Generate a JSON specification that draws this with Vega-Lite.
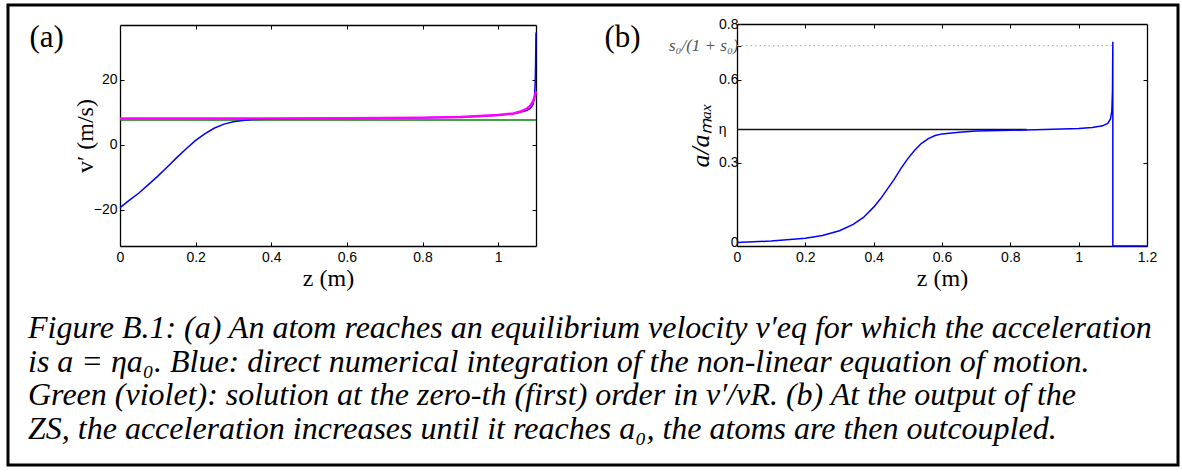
{
  "$schema": "https://vega.github.io/schema/vega-lite/v6.json",
  "width": 1170,
  "height": 460,
  "autosize": {"type": "none"},
  "padding": {"left": 8, "top": 5, "right": 4, "bottom": 8},
  "background": "white",
  "config": {
    "view": {"stroke": "black", "strokeWidth": 3},
    "axis": {
      "grid": false,
      "domainColor": "black",
      "domainWidth": 1.3,
      "tickColor": "black",
      "tickWidth": 1,
      "tickSize": -4,
      "labelFont": "Liberation Sans",
      "labelFontSize": 14,
      "labelColor": "black",
      "labelFlush": false,
      "labelOverlap": false,
      "titleFont": "Liberation Serif",
      "titleFontSize": 24,
      "titleFontWeight": "normal",
      "titleColor": "black"
    }
  },
  "title": {
    "text": [
      "Figure B.1: (a) An atom reaches an equilibrium velocity v′eq for which the acceleration",
      "is a = ηa₀. Blue: direct numerical integration of the non-linear equation of motion.",
      "Green (violet): solution at the zero-th (first) order in v′/vR. (b) At the output of the",
      "ZS, the acceleration increases until it reaches a₀, the atoms are then outcoupled."
    ],
    "orient": "bottom",
    "anchor": "start",
    "frame": "group",
    "offset": -127,
    "dx": 20,
    "font": "Liberation Serif",
    "fontSize": 32,
    "fontStyle": "italic",
    "fontWeight": "normal",
    "color": "black",
    "lineHeight": 33.7,
    "baseline": "alphabetic"
  },
  "datasets": {
    "a": [
      {"s": "green", "i": 0, "z": 0, "v": 7.7},
      {"s": "green", "i": 1, "z": 1.1, "v": 7.7},
      {"s": "blue", "i": 0, "z": 0, "v": -19.3},
      {"s": "blue", "i": 1, "z": 0.025, "v": -17.0},
      {"s": "blue", "i": 2, "z": 0.05, "v": -14.8},
      {"s": "blue", "i": 3, "z": 0.075, "v": -12.2},
      {"s": "blue", "i": 4, "z": 0.1, "v": -9.6},
      {"s": "blue", "i": 5, "z": 0.125, "v": -6.8},
      {"s": "blue", "i": 6, "z": 0.15, "v": -3.9},
      {"s": "blue", "i": 7, "z": 0.175, "v": -1.2},
      {"s": "blue", "i": 8, "z": 0.2, "v": 1.4},
      {"s": "blue", "i": 9, "z": 0.225, "v": 3.5},
      {"s": "blue", "i": 10, "z": 0.25, "v": 5.2},
      {"s": "blue", "i": 11, "z": 0.275, "v": 6.4},
      {"s": "blue", "i": 12, "z": 0.3, "v": 7.1},
      {"s": "blue", "i": 13, "z": 0.325, "v": 7.55},
      {"s": "blue", "i": 14, "z": 0.35, "v": 7.8},
      {"s": "blue", "i": 15, "z": 0.4, "v": 8.0},
      {"s": "blue", "i": 16, "z": 0.5, "v": 8.1},
      {"s": "blue", "i": 17, "z": 0.6, "v": 8.15},
      {"s": "blue", "i": 18, "z": 0.7, "v": 8.2},
      {"s": "blue", "i": 19, "z": 0.8, "v": 8.35},
      {"s": "blue", "i": 20, "z": 0.9, "v": 8.55},
      {"s": "blue", "i": 21, "z": 1.0, "v": 9.1},
      {"s": "blue", "i": 22, "z": 1.04, "v": 9.6},
      {"s": "blue", "i": 23, "z": 1.06, "v": 10.1},
      {"s": "blue", "i": 24, "z": 1.075, "v": 10.6},
      {"s": "blue", "i": 25, "z": 1.085, "v": 11.2},
      {"s": "blue", "i": 26, "z": 1.092, "v": 12.4},
      {"s": "blue", "i": 27, "z": 1.096, "v": 14.8},
      {"s": "blue", "i": 28, "z": 1.098, "v": 19.5},
      {"s": "blue", "i": 29, "z": 1.099, "v": 25.5},
      {"s": "blue", "i": 30, "z": 1.1, "v": 34.6},
      {"s": "magenta", "i": 0, "z": 0, "v": 8.15},
      {"s": "magenta", "i": 1, "z": 0.3, "v": 8.15},
      {"s": "magenta", "i": 2, "z": 0.6, "v": 8.2},
      {"s": "magenta", "i": 3, "z": 0.8, "v": 8.4},
      {"s": "magenta", "i": 4, "z": 0.9, "v": 8.6},
      {"s": "magenta", "i": 5, "z": 1.0, "v": 9.2},
      {"s": "magenta", "i": 6, "z": 1.04, "v": 9.7},
      {"s": "magenta", "i": 7, "z": 1.06, "v": 10.3},
      {"s": "magenta", "i": 8, "z": 1.075, "v": 11.1},
      {"s": "magenta", "i": 9, "z": 1.085, "v": 12.1},
      {"s": "magenta", "i": 10, "z": 1.092, "v": 13.4},
      {"s": "magenta", "i": 11, "z": 1.096, "v": 14.6},
      {"s": "magenta", "i": 12, "z": 1.1, "v": 16.5}
    ],
    "b": [
      {"s": "sat", "i": 0, "z": 0, "r": 0.722},
      {"s": "sat", "i": 1, "z": 1.097, "r": 0.722},
      {"s": "eta", "i": 0, "z": 0, "r": 0.42},
      {"s": "eta", "i": 1, "z": 0.848, "r": 0.42},
      {"s": "blue", "i": 0, "z": 0, "r": 0.013},
      {"s": "blue", "i": 1, "z": 0.1, "r": 0.018},
      {"s": "blue", "i": 2, "z": 0.2, "r": 0.028},
      {"s": "blue", "i": 3, "z": 0.25, "r": 0.038},
      {"s": "blue", "i": 4, "z": 0.3, "r": 0.055},
      {"s": "blue", "i": 5, "z": 0.34, "r": 0.078},
      {"s": "blue", "i": 6, "z": 0.37, "r": 0.103},
      {"s": "blue", "i": 7, "z": 0.4, "r": 0.14},
      {"s": "blue", "i": 8, "z": 0.42, "r": 0.17},
      {"s": "blue", "i": 9, "z": 0.44, "r": 0.205},
      {"s": "blue", "i": 10, "z": 0.46, "r": 0.24},
      {"s": "blue", "i": 11, "z": 0.48, "r": 0.28},
      {"s": "blue", "i": 12, "z": 0.5, "r": 0.315},
      {"s": "blue", "i": 13, "z": 0.52, "r": 0.345},
      {"s": "blue", "i": 14, "z": 0.54, "r": 0.37},
      {"s": "blue", "i": 15, "z": 0.56, "r": 0.387},
      {"s": "blue", "i": 16, "z": 0.58, "r": 0.398},
      {"s": "blue", "i": 17, "z": 0.6, "r": 0.404},
      {"s": "blue", "i": 18, "z": 0.65, "r": 0.41},
      {"s": "blue", "i": 19, "z": 0.7, "r": 0.414},
      {"s": "blue", "i": 20, "z": 0.8, "r": 0.417},
      {"s": "blue", "i": 21, "z": 0.9, "r": 0.42},
      {"s": "blue", "i": 22, "z": 1.0, "r": 0.423},
      {"s": "blue", "i": 23, "z": 1.04, "r": 0.427},
      {"s": "blue", "i": 24, "z": 1.07, "r": 0.433},
      {"s": "blue", "i": 25, "z": 1.085, "r": 0.442},
      {"s": "blue", "i": 26, "z": 1.093, "r": 0.458},
      {"s": "blue", "i": 27, "z": 1.097, "r": 0.485},
      {"s": "blue", "i": 28, "z": 1.099, "r": 0.56},
      {"s": "blue", "i": 29, "z": 1.1, "r": 0.736},
      {"s": "blue", "i": 30, "z": 1.1, "r": 0},
      {"s": "blue", "i": 31, "z": 1.2, "r": 0}
    ]
  },
  "layer": [
    {
      "resolve": {"scale": {"x": "shared", "y": "shared"}, "axis": {"x": "independent", "y": "independent"}},
      "layer": [
        {
          "data": {"name": "a"},
          "transform": [{"filter": "datum.s == 'green'"}],
          "mark": {"type": "line", "color": "#008000", "strokeWidth": 1.5},
          "encoding": {
            "x": {"field": "z", "type": "quantitative",
              "scale": {"domain": [0, 1.1], "range": [112, 528], "nice": false, "zero": false},
              "axis": {"orient": "bottom", "offset": -219, "values": [0, 0.2, 0.4, 0.6, 0.8, 1], "format": "~f", "title": "z (m)", "titleFont": "Liberation Serif", "titleFontSize": 24, "labelPadding": 8, "titlePadding": 2}},
            "y": {"field": "v", "type": "quantitative",
              "scale": {"domain": [-31.1, 36.9], "range": [241, 20], "nice": false, "zero": false},
              "axis": {"orient": "left", "offset": -112, "values": [-20, 0, 20], "format": "~f", "title": "v′ (m/s)", "titleFont": "Liberation Serif", "titleFontSize": 24, "titleX": -28, "titleY": 130.5, "titleBaseline": "alphabetic", "labelPadding": 7}},
            "order": {"field": "i", "type": "quantitative"}
          }
        },
        {
          "data": {"name": "a"},
          "transform": [{"filter": "datum.s == 'blue'"}],
          "mark": {"type": "line", "color": "#0000ff", "strokeWidth": 1.5},
          "encoding": {
            "x": {"field": "z", "type": "quantitative",
              "scale": {"domain": [0, 1.1], "range": [112, 528], "nice": false, "zero": false},
              "axis": {"orient": "top", "offset": -20, "values": [0.2, 0.4, 0.6, 0.8, 1], "labels": false, "title": null}},
            "y": {"field": "v", "type": "quantitative",
              "scale": {"domain": [-31.1, 36.9], "range": [241, 20], "nice": false, "zero": false},
              "axis": {"orient": "right", "offset": -642, "values": [-20, 0, 20], "labels": false, "title": null}},
            "order": {"field": "i", "type": "quantitative"}
          }
        },
        {
          "data": {"name": "a"},
          "transform": [{"filter": "datum.s == 'magenta'"}],
          "mark": {"type": "line", "color": "#ff00ff", "strokeWidth": 2.5},
          "encoding": {
            "x": {"field": "z", "type": "quantitative",
              "scale": {"domain": [0, 1.1], "range": [112, 528], "nice": false, "zero": false}, "axis": null},
            "y": {"field": "v", "type": "quantitative",
              "scale": {"domain": [-31.1, 36.9], "range": [241, 20], "nice": false, "zero": false}, "axis": null},
            "order": {"field": "i", "type": "quantitative"}
          }
        },
        {
          "data": {"values": [{"label": "(a)", "z": -0.194, "v": 30.1}]},
          "mark": {"type": "text", "font": "Liberation Serif", "fontSize": 31, "align": "center", "baseline": "alphabetic", "color": "black"},
          "encoding": {
            "x": {"field": "z", "type": "quantitative",
              "scale": {"domain": [0, 1.1], "range": [112, 528], "nice": false, "zero": false}, "axis": null},
            "y": {"field": "v", "type": "quantitative",
              "scale": {"domain": [-31.1, 36.9], "range": [241, 20], "nice": false, "zero": false}, "axis": null},
            "text": {"field": "label"}
          }
        }
      ]
    },
    {
      "resolve": {"scale": {"x": "shared", "y": "shared"}, "axis": {"x": "independent", "y": "independent"}},
      "layer": [
        {
          "data": {"name": "b"},
          "transform": [{"filter": "datum.s == 'sat'"}],
          "mark": {"type": "line", "color": "#8fcf8f", "strokeWidth": 1.2, "strokeDash": [1.5, 3]},
          "encoding": {
            "x": {"field": "z", "type": "quantitative",
              "scale": {"domain": [0, 1.2], "range": [729, 1139], "nice": false, "zero": false},
              "axis": {"orient": "bottom", "offset": -219, "values": [0, 0.2, 0.4, 0.6, 0.8, 1, 1.2], "format": "~f", "title": "z (m)", "titleFont": "Liberation Serif", "titleFontSize": 24, "labelPadding": 8, "titlePadding": 2}},
            "y": {"field": "r", "type": "quantitative",
              "scale": {"domain": [0, 0.8], "range": [241, 19], "nice": false, "zero": false},
              "axis": {"orient": "left", "offset": -729, "values": [0, 0.3, 0.42, 0.6, 0.722, 0.8], "format": "~f",
                "labelExpr": "datum.value == 0.42 ? 'η' : datum.value == 0.722 ? 's₀/(1 + s₀)' : datum.label",
                "labelFont": {"condition": {"test": "datum.value == 0.722", "value": "Liberation Serif"}, "value": "Liberation Sans"},
                "labelFontStyle": {"condition": {"test": "datum.value == 0.722", "value": "italic"}, "value": "normal"},
                "labelColor": {"condition": {"test": "datum.value == 0.722", "value": "#555555"}, "value": "black"},
                "labelFontSize": {"condition": {"test": "datum.value == 0.722", "value": 17}, "value": 14},
                "labelPadding": {"condition": {"test": "datum.value == 0.42", "value": 15}, "value": 3},
                "labelBaseline": {"condition": {"test": "datum.value == 0", "value": "alphabetic"}, "value": "middle"},
                "title": "a/aₘₐₓ", "titleFont": "Liberation Serif", "titleFontSize": 26, "titleFontStyle": "italic",
                "titleX": -29, "titleY": 130, "titleBaseline": "alphabetic"}},
            "order": {"field": "i", "type": "quantitative"}
          }
        },
        {
          "data": {"name": "b"},
          "transform": [{"filter": "datum.s == 'eta'"}],
          "mark": {"type": "line", "color": "#111111", "strokeWidth": 1.5},
          "encoding": {
            "x": {"field": "z", "type": "quantitative",
              "scale": {"domain": [0, 1.2], "range": [729, 1139], "nice": false, "zero": false},
              "axis": {"orient": "top", "offset": -19, "values": [0.2, 0.4, 0.6, 0.8, 1], "labels": false, "title": null}},
            "y": {"field": "r", "type": "quantitative",
              "scale": {"domain": [0, 0.8], "range": [241, 19], "nice": false, "zero": false},
              "axis": {"orient": "right", "offset": -31, "values": [0.3, 0.6], "labels": false, "title": null}},
            "order": {"field": "i", "type": "quantitative"}
          }
        },
        {
          "data": {"name": "b"},
          "transform": [{"filter": "datum.s == 'blue'"}],
          "mark": {"type": "line", "color": "#0000ff", "strokeWidth": 1.5},
          "encoding": {
            "x": {"field": "z", "type": "quantitative",
              "scale": {"domain": [0, 1.2], "range": [729, 1139], "nice": false, "zero": false}, "axis": null},
            "y": {"field": "r", "type": "quantitative",
              "scale": {"domain": [0, 0.8], "range": [241, 19], "nice": false, "zero": false}, "axis": null},
            "order": {"field": "i", "type": "quantitative"}
          }
        },
        {
          "data": {"values": [{"label": "(b)", "z": -0.335, "r": 0.718}]},
          "mark": {"type": "text", "font": "Liberation Serif", "fontSize": 31, "align": "center", "baseline": "alphabetic", "color": "black"},
          "encoding": {
            "x": {"field": "z", "type": "quantitative",
              "scale": {"domain": [0, 1.2], "range": [729, 1139], "nice": false, "zero": false}, "axis": null},
            "y": {"field": "r", "type": "quantitative",
              "scale": {"domain": [0, 0.8], "range": [241, 19], "nice": false, "zero": false}, "axis": null},
            "text": {"field": "label"}
          }
        }
      ]
    }
  ],
  "resolve": {"scale": {"x": "independent", "y": "independent"}, "axis": {"x": "independent", "y": "independent"}}
}
